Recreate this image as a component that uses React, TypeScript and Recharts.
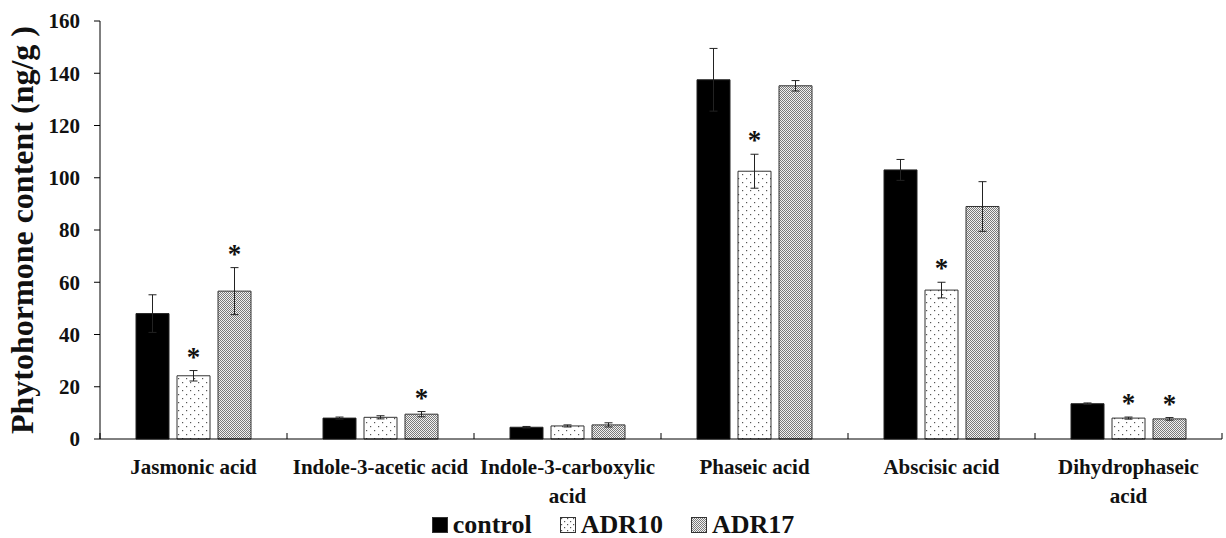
import { BarChart, Bar, XAxis, YAxis, ErrorBar, LabelList } from "recharts";

const categories = [
  "Jasmonic acid",
  "Indole-3-acetic acid",
  "Indole-3-carboxylic acid",
  "Phaseic acid",
  "Abscisic acid",
  "Dihydrophaseic acid",
];
const tickLines: Record<string, string[]> = {
  "Indole-3-carboxylic acid": ["Indole-3-carboxylic", "acid"],
  "Dihydrophaseic acid": ["Dihydrophaseic", "acid"],
};
const control = [48, 8, 4.5, 137.5, 103, 13.5];
const controlErr = [7.2, 0.4, 0.3, 12, 4, 0.3];
const adr10 = [24.2, 8.3, 5, 102.5, 57, 8];
const adr10Err = [2, 0.6, 0.4, 6.5, 3, 0.4];
const adr17 = [56.6, 9.5, 5.4, 135.2, 89, 7.7];
const adr17Err = [9, 1, 0.8, 2, 9.5, 0.5];
const sig10 = [true, false, false, true, true, true];
const sig17 = [true, true, false, false, false, true];
const yTicks = [0, 20, 40, 60, 80, 100, 120, 140, 160];
const seriesNames = ["control", "ADR10", "ADR17"];

const data = categories.map((name, i) => ({
  name,
  control: control[i],
  controlErr: controlErr[i],
  ADR10: adr10[i],
  adr10Err: adr10Err[i],
  ADR17: adr17[i],
  adr17Err: adr17Err[i],
}));

const FONT = "Liberation Serif";
const W = 1226;
const H = 538;
const LEFT = 100;
const RIGHT = 4;
const BAND = (W - LEFT - RIGHT) / categories.length;

function CategoryTick(props: any) {
  const { x, y, payload, index } = props;
  const lines = tickLines[payload.value] || [payload.value];
  const axisY = y - 8;
  return (
    <g>
      <line x1={x - BAND / 2} y1={axisY} x2={x - BAND / 2} y2={axisY - 6} stroke="#000" />
      {index === categories.length - 1 && (
        <line x1={x + BAND / 2} y1={axisY} x2={x + BAND / 2} y2={axisY - 6} stroke="#000" />
      )}
      <text x={x} y={axisY + 35} textAnchor="middle" fontFamily={FONT} fontWeight="bold" fontSize={21} fill="#111">
        {lines.map((l, k) => (
          <tspan key={k} x={x} dy={k === 0 ? 0 : 29}>
            {l}
          </tspan>
        ))}
      </text>
    </g>
  );
}

// asterisk above the error bar of significant bars
function star(sig: boolean[], vals: number[], errs: number[]) {
  return (props: any) => {
    const { x, y, width, height, index } = props;
    if (!sig[index]) return null;
    const k = height / vals[index];
    const top = y - errs[index] * k;
    return (
      <text x={x + width / 2} y={top - 5} textAnchor="middle" fontFamily={FONT} fontWeight="bold" fontSize={27} fill="#111">
        *
      </text>
    );
  };
}

function Swatch({ name }: { name: string }) {
  const fill = name === "control" ? "#000" : name === "ADR10" ? "url(#lgSparse)" : "url(#lgDense)";
  return (
    <svg width={16} height={16} style={{ marginRight: 5 }}>
      <defs>
        <pattern id="lgSparse" width="6" height="6" patternUnits="userSpaceOnUse">
          <rect width="6" height="6" fill="#fff" />
          <rect x="1" y="1" width="1.2" height="1.2" fill="#555" />
          <rect x="4" y="4" width="1.2" height="1.2" fill="#555" />
        </pattern>
        <pattern id="lgDense" width="2" height="2" patternUnits="userSpaceOnUse">
          <rect width="2" height="2" fill="#f2f2f2" />
          <rect x="0" y="0" width="1" height="1" fill="#7a7a7a" />
          <rect x="1" y="1" width="1" height="1" fill="#7a7a7a" />
        </pattern>
      </defs>
      <rect x={0.5} y={0.5} width={15} height={15} fill={fill} stroke="#333" />
    </svg>
  );
}

export default function App() {
  return (
    <div style={{ position: "absolute", left: 0, top: 0, width: W, height: H, background: "#fff" }}>
      <BarChart
        width={W}
        height={H}
        data={data}
        margin={{ top: 21, right: RIGHT, left: 40, bottom: 0 }}
        barSize={33}
        barGap={8}
      >
        <defs>
          <pattern id="sparse" width="8" height="8" patternUnits="userSpaceOnUse">
            <rect width="8" height="8" fill="#fff" />
            <rect x="2" y="2" width="1.2" height="1.2" fill="#555" />
            <rect x="6" y="6" width="1.2" height="1.2" fill="#555" />
          </pattern>
          <pattern id="dense" width="2" height="2" patternUnits="userSpaceOnUse">
            <rect width="2" height="2" fill="#f2f2f2" />
            <rect x="0" y="0" width="1" height="1" fill="#7a7a7a" />
            <rect x="1" y="1" width="1" height="1" fill="#7a7a7a" />
          </pattern>
        </defs>
        <XAxis
          dataKey="name"
          height={99}
          interval={0}
          axisLine={{ stroke: "#000" }}
          tickLine={false}
          tick={<CategoryTick />}
        />
        <YAxis
          width={60}
          domain={[0, 160]}
          ticks={yTicks}
          axisLine={{ stroke: "#000" }}
          tickLine={{ stroke: "#000" }}
          tickSize={6}
          tickMargin={14}
          tick={{ fontFamily: FONT, fontWeight: "bold", fontSize: 21, fill: "#111" }}
          label={{
            value: "Phytohormone content (ng/g )",
            angle: -90,
            position: "insideLeft",
            dx: -23,
            style: { fontFamily: FONT, fontWeight: "bold", fontSize: 32, fill: "#111", textAnchor: "middle" },
          }}
        />
        <Bar dataKey="control" fill="#000" stroke="#222" isAnimationActive={false}>
          <ErrorBar dataKey="controlErr" width={4} stroke="#222" strokeWidth={1} />
        </Bar>
        <Bar dataKey="ADR10" fill="url(#sparse)" stroke="#333" isAnimationActive={false}>
          <ErrorBar dataKey="adr10Err" width={4} stroke="#222" strokeWidth={1} />
          <LabelList dataKey="ADR10" content={star(sig10, adr10, adr10Err)} />
        </Bar>
        <Bar dataKey="ADR17" fill="url(#dense)" stroke="#333" isAnimationActive={false}>
          <ErrorBar dataKey="adr17Err" width={4} stroke="#222" strokeWidth={1} />
          <LabelList dataKey="ADR17" content={star(sig17, adr17, adr17Err)} />
        </Bar>
      </BarChart>
      <div
        style={{
          position: "absolute",
          left: 0,
          top: 511,
          width: W,
          height: 27,
          display: "flex",
          justifyContent: "center",
          alignItems: "center",
          fontFamily: FONT,
          fontWeight: "bold",
          fontSize: 26,
          lineHeight: "26px",
          color: "#111",
        }}
      >
        {seriesNames.map((s) => (
          <span
            key={s}
            style={{ display: "flex", alignItems: "center", margin: "0 14px", fontFamily: FONT, fontWeight: "bold" }}
          >
            <Swatch name={s} />
            {s}
          </span>
        ))}
      </div>
    </div>
  );
}
